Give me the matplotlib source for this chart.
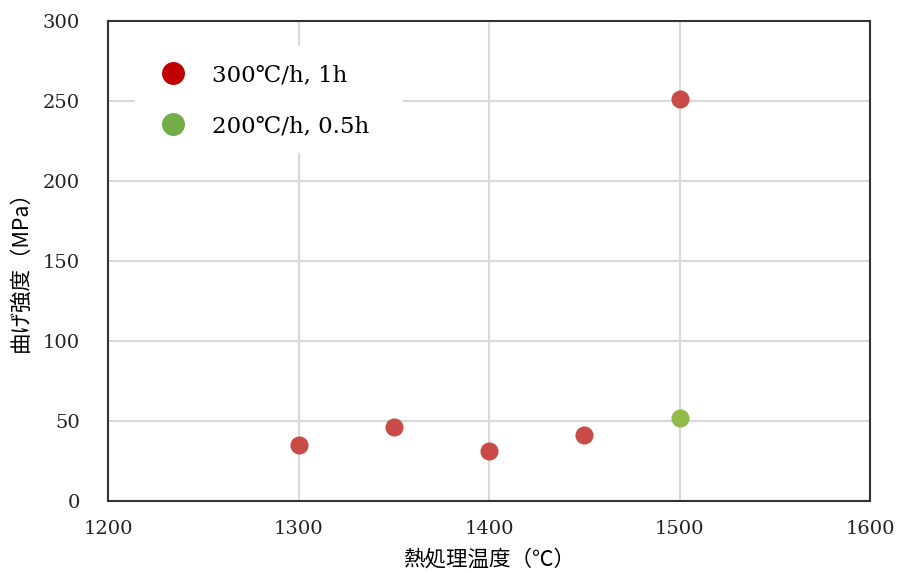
import matplotlib
matplotlib.use("Agg")
import matplotlib.pyplot as plt
from matplotlib.lines import Line2D
from matplotlib.patches import Rectangle

plt.rcParams['font.family'] = ['DejaVu Serif', 'Noto Sans CJK JP', 'DejaVu Sans']

# Bending strength vs. heat-treatment temperature
temp_300 = [1300, 1350, 1400, 1450, 1500]
strength_300 = [35, 46, 31, 41, 251]
temp_200 = [1500]
strength_200 = [52]

label_300 = "300℃/h, 1h"
label_200 = "200℃/h, 0.5h"
x_ticks = [1200, 1300, 1400, 1500, 1600]
y_ticks = [0, 50, 100, 150, 200, 250, 300]

fig = plt.figure(figsize=(9, 5.73), dpi=100)
ax = fig.add_axes([0.12, 0.1257, 0.8467, 0.8377])

ax.scatter(temp_300, strength_300, s=170, color="#C84B47", zorder=3, linewidths=0)
ax.scatter(temp_200, strength_200, s=170, color="#92BA48", zorder=3, linewidths=0)

ax.set_xlim(1200, 1600)
ax.set_ylim(0, 300)
ax.set_xticks(x_ticks)
ax.set_yticks(y_ticks)
ax.grid(True, color="#D9D9D9", linewidth=1.5)
ax.set_axisbelow(True)
for sp in ax.spines.values():
    sp.set_color("#333333")
    sp.set_linewidth(1.5)
ax.tick_params(axis="y", length=0, labelsize=14, pad=20, colors="#222222")
ax.tick_params(axis="x", length=0, labelsize=14, pad=14, colors="#222222")

ax.set_xlabel("熱処理温度（℃）", fontsize=15.5, family=['Noto Sans CJK JP'])
ax.xaxis.set_label_coords(0.5, -0.1)
ax.set_ylabel("曲げ強度（MPa）", fontsize=15.5, family=['Noto Sans CJK JP'])
ax.yaxis.set_label_coords(-0.1, 0.49)

# white panel behind the legend, hiding the grid
ax.add_patch(Rectangle((0.035, 0.725), 0.352, 0.222, transform=ax.transAxes,
                       facecolor="white", edgecolor="none", zorder=1))

handles = [
    Line2D([], [], linestyle="none", marker="o", markersize=15.5, color="#C00000"),
    Line2D([], [], linestyle="none", marker="o", markersize=15.5, color="#72AD47"),
]
leg = ax.legend(handles, [label_300, label_200], loc="upper left",
                bbox_to_anchor=(0.070, 0.9095), frameon=False, borderaxespad=0,
                borderpad=0, handlelength=1.0, handletextpad=1.2, labelspacing=1.27,
                prop={'family': ['DejaVu Serif', 'DejaVu Sans'], 'size': 16.5})
leg.set_zorder(5)

fig.savefig("out.png", dpi=100)
